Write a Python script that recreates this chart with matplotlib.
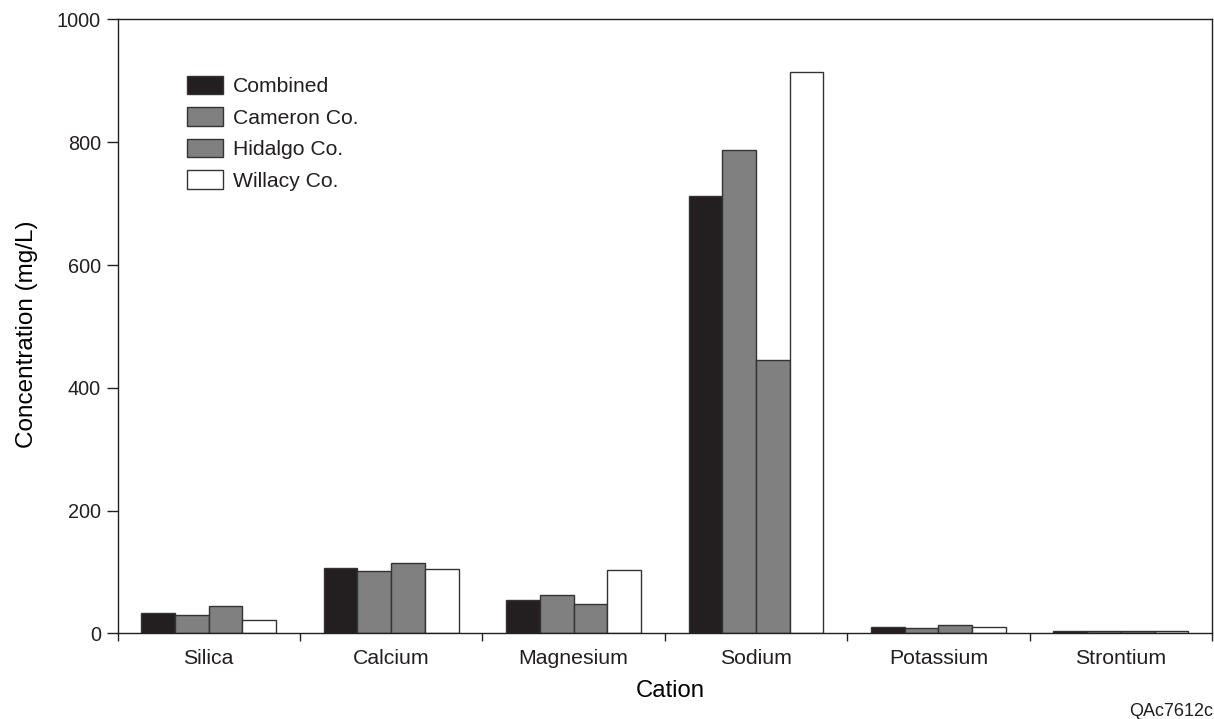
import matplotlib
matplotlib.use('Agg')
import matplotlib.pyplot as plt
import numpy as np

# cation concentrations (mg/L)
cations = ['Silica', 'Calcium', 'Magnesium', 'Sodium', 'Potassium', 'Strontium']
combined = [33, 106, 54, 713, 11, 4]
cameron = [30, 102, 62, 788, 8, 3]
hidalgo = [45, 115, 47, 446, 13, 4]
willacy = [22, 104, 103, 915, 10, 3]

series = [('Combined', combined, '#231f20'),
          ('Cameron Co.', cameron, '#808080'),
          ('Hidalgo Co.', hidalgo, '#808080'),
          ('Willacy Co.', willacy, '#ffffff')]

plt.rcParams['font.family'] = ['Liberation Sans', 'DejaVu Sans']
plt.rcParams['text.color'] = '#231f20'

fig = plt.figure(figsize=(12.14, 7.19), dpi=100)
ax = fig.add_axes([0.0968, 0.1192, 0.9016, 0.8537])

x = np.arange(len(cations))
w = 0.185
for i, (name, vals, col) in enumerate(series):
    ax.bar(x + (i - 1.5) * w, vals, w, color=col, edgecolor='#333333',
           linewidth=1.0, label=name)

ax.set_xlim(-0.5, len(cations) - 0.5)
ax.set_ylim(0, 1000)
ax.set_yticks(range(0, 1001, 200))

# ticks between groups, labels under group centres
ax.set_xticks(np.arange(-0.5, len(cations), 1.0))
ax.set_xticklabels([])
ax.set_xticks(x, minor=True)
ax.set_xticklabels(cations, minor=True)
ax.tick_params(axis='x', which='minor', length=0, pad=11.5, labelsize=15.3,
               labelcolor='#231f20')
ax.tick_params(axis='x', which='major', length=6, width=1, direction='out',
               color='#231f20')
ax.tick_params(axis='y', length=8, width=1, direction='out', labelsize=14.3,
               pad=4, color='#231f20', labelcolor='#231f20')

for s in ax.spines.values():
    s.set_linewidth(1.0)
    s.set_color('#231f20')

ax.set_xlabel('Cation', fontsize=17.2)
ax.xaxis.set_label_coords(0.5052, -0.0753)
ax.set_ylabel('Concentration (mg/L)', fontsize=17.5)
ax.yaxis.set_label_coords(-0.0722, 0.487)

ax.legend(loc='upper left', bbox_to_anchor=(0.1538, 0.8946),
          bbox_transform=fig.transFigure, frameon=False, fontsize=15.2,
          borderpad=0, borderaxespad=0, handlelength=1.7, handleheight=0.95,
          labelspacing=0.53, handletextpad=0.47)

fig.text(0.999, 0.004, 'QAc7612c', ha='right', va='baseline', fontsize=13)

fig.savefig('out.png', dpi=100)
